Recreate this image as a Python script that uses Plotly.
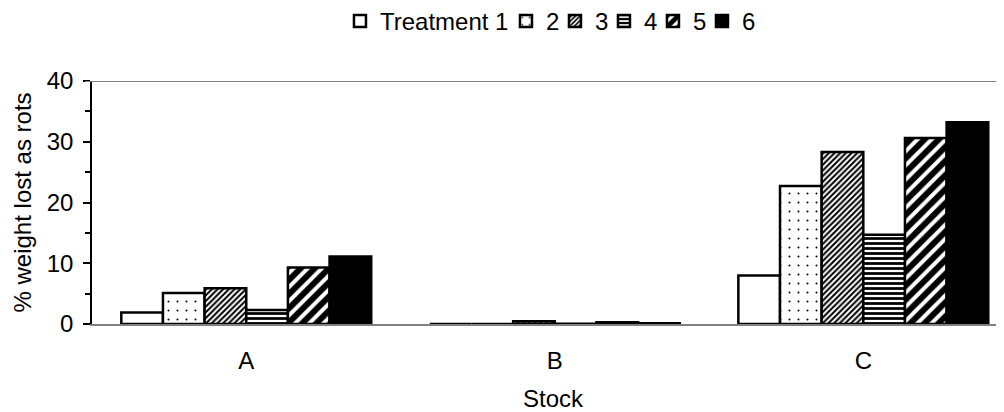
import plotly.graph_objects as go

stocks = ["A", "B", "C"]
treatments = ["Treatment 1", "2", "3", "4", "5", "6"]
t1 = [1.9, 0.0, 8.0]
t2 = [5.1, 0.0, 22.7]
t3 = [5.9, 0.45, 28.3]
t4 = [2.3, 0.05, 14.7]
t5 = [9.3, 0.3, 30.6]
t6 = [11.1, 0.12, 33.2]
series = [t1, t2, t3, t4, t5, t6]

FONT = "Arial, 'Liberation Sans', sans-serif"

styles = [
    dict(color="white", pattern=dict(shape="")),
    dict(color="white", pattern=dict(shape=".", size=9, solidity=0.04, fgcolor="black", bgcolor="white", fgopacity=1)),
    dict(color="white", pattern=dict(shape="/", size=4, solidity=0.5, fgcolor="black", bgcolor="white", fgopacity=1)),
    dict(color="white", pattern=dict(shape="-", size=5, solidity=0.55, fgcolor="black", bgcolor="white", fgopacity=1)),
    dict(color="white", pattern=dict(shape="/", size=10, solidity=0.6, fgcolor="black", bgcolor="white", fgopacity=1)),
    dict(color="black", pattern=dict(shape="")),
]
legend_widths = [121, 4, 4, 4, 4, 16]

fig = go.Figure()
for name, vals, st, lw in zip(treatments, series, styles, legend_widths):
    fig.add_trace(go.Bar(
        x=stocks, y=vals, name=name, legendwidth=lw,
        marker=dict(color=st["color"], pattern=st["pattern"],
                    line=dict(color="black", width=2.5)),
    ))

# page has an 8px body margin: figure is sized/positioned to compensate
fig.update_layout(
    width=996, height=404,
    margin=dict(l=84, r=0, t=73, b=88, autoexpand=False),
    paper_bgcolor="white", plot_bgcolor="white",
    barmode="group", bargap=0.19, bargroupgap=0,
    font=dict(family=FONT, size=24, color="black"),
    showlegend=True,
    legend=dict(orientation="h", x=0.3333, xanchor="left", xref="container",
                y=1.245, yanchor="middle", yref="paper",
                font=dict(size=24), itemwidth=30, tracegroupgap=0,
                bgcolor="rgba(0,0,0,0)"),
    xaxis=dict(range=[-0.5, 2.456], showline=True, linecolor="#808080", linewidth=2,
               ticks="", showgrid=False, zeroline=False, automargin=False,
               ticklabelstandoff=14, tickfont=dict(size=24)),
    yaxis=dict(range=[0, 40], tickvals=[0, 10, 20, 30, 40], showline=True,
               linecolor="black", linewidth=1.5, ticks="outside", ticklen=7,
               tickcolor="black", tickwidth=1.5, showgrid=False, zeroline=False,
               automargin=False, ticklabelstandoff=5,
               minor=dict(tickvals=[5, 15, 25, 35], ticks="outside", ticklen=5,
                          tickcolor="black", tickwidth=1.5),
               tickfont=dict(size=24)),
    annotations=[
        dict(text="% weight lost as rots", xref="paper", yref="paper",
             x=(14 - 84) / 912, y=0.5, xanchor="center", yanchor="middle",
             textangle=-90, showarrow=False, font=dict(size=24)),
        dict(text="Stock", xref="paper", yref="paper",
             x=(545 - 84) / 912, y=-(390 - 315.5) / 242.5, xanchor="center", yanchor="middle",
             showarrow=False, font=dict(size=24)),
    ],
)

fig.add_shape(type="line", xref="paper", yref="y", x0=-7/912, x1=1, y0=40, y1=40,
              line=dict(color="#808080", width=2))

fig.write_html("out.html")
